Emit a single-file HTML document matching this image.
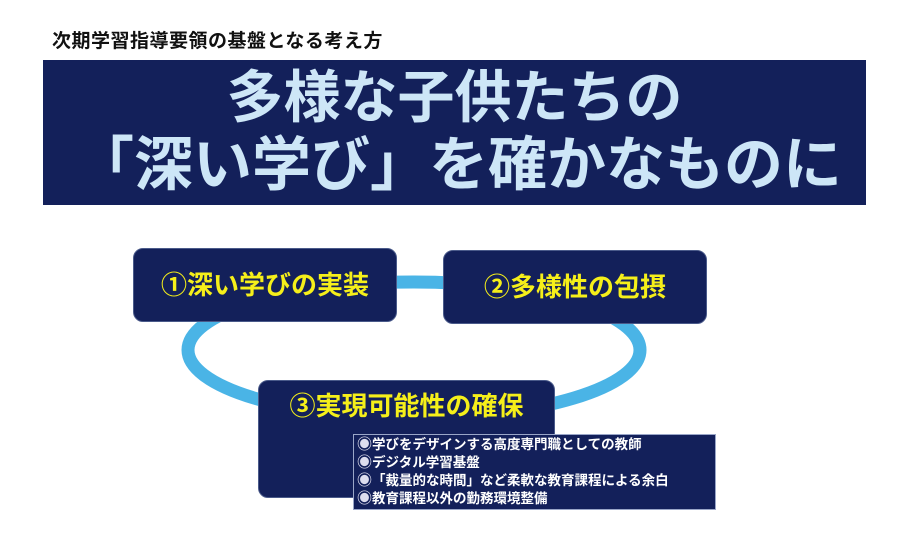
<!DOCTYPE html>
<html><head><meta charset="utf-8"><style>
body{margin:0;width:900px;height:544px;background:#fff;position:relative;overflow:hidden;font-family:"Liberation Sans","Noto Sans CJK JP",sans-serif;font-weight:bold}
div{position:absolute;box-sizing:border-box}
.t{white-space:nowrap}
.box{background:#13205a;border:1px solid #4a5a8a;border-radius:10px;color:#f5ef1a;font-size:26px;text-align:center}
.b{font-size:15px;color:#dde}
</style></head><body>
<div class="t" style="left:52px;top:26px;font-size:19px;color:#111;letter-spacing:0.5px">次期学習指導要領の基盤となる考え方</div>
<div style="left:43px;top:60px;width:823px;height:145px;background:#13205a"></div>
<div class="t" style="left:43px;top:66px;width:823px;text-align:center;font-size:57px;line-height:64px;color:#cde6f7">多様な子供たちの</div>
<div class="t" style="left:43px;top:133px;width:823px;text-align:center;font-size:59px;line-height:64px;color:#cde6f7;padding-left:8px">「深い学び」を確かなものに</div>
<svg style="position:absolute;left:0;top:0" width="900" height="544"><ellipse cx="414" cy="350" rx="226" ry="68" fill="none" stroke="#4ab4e6" stroke-width="13"/></svg>
<div class="box" style="left:133px;top:248px;width:264px;height:74px;line-height:72px">①深い学びの実装</div>
<div class="box" style="left:443px;top:250px;width:264px;height:74px;line-height:72px">②多様性の包摂</div>
<div class="box" style="left:258px;top:380px;width:297px;height:118px;line-height:50px">③実現可能性の確保</div>
<div style="left:353px;top:434px;width:363px;height:76px;background:#13205a;border:1px solid #9aa6c8;color:#fff;font-size:13.5px;line-height:18px;padding:1px 0 0 3px" class="t"><span class="b">◉</span>学びをデザインする高度専門職としての教師<br><span class="b">◉</span>デジタル学習基盤<br><span class="b">◉</span>「裁量的な時間」など柔軟な教育課程による余白<br><span class="b">◉</span>教育課程以外の勤務環境整備</div>
</body></html>
